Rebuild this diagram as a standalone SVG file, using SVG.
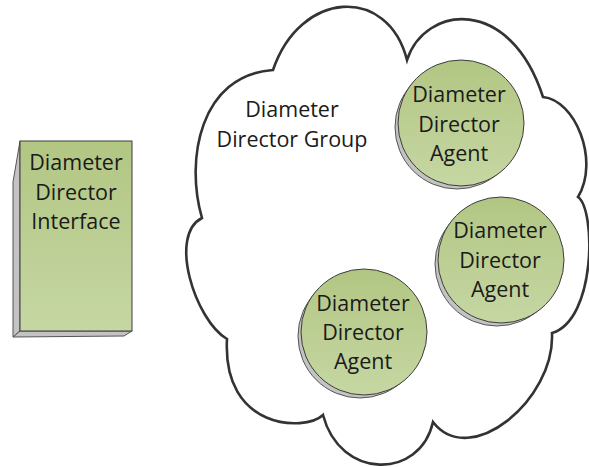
<svg xmlns="http://www.w3.org/2000/svg" width="589" height="467" viewBox="0 0 589 467">
<defs>
<linearGradient id="g" x1="0" y1="0" x2="0" y2="1">
<stop offset="0" stop-color="#b2c683"/>
<stop offset="1" stop-color="#c6d7a3"/>
</linearGradient>
</defs>
<style>
.t{font-family:"Open Sans","Noto Sans",sans-serif;font-size:21.5px;fill:#1a1a1a;text-anchor:middle}
.face{fill:url(#g);stroke:#3c3c3c;stroke-width:1}
.shade{fill:#c3c3c3;stroke:#555;stroke-width:1}
.cloud{fill:#fff;stroke:#333;stroke-width:2.6;stroke-linejoin:miter}
</style>
<rect width="589" height="467" fill="#fff"/>
<g id="group">
<path class="cloud" d="M273,70 C300,-10 388,-15 407,60 C425,5 510,-5 543,97 C575,100 600,160 578,197 C596,210 596,320 552,333 C555,400 470,470 433,422 C420,480 340,480 323,415 C305,432 222,430 227,339 C195,320 168,235 202,218 C185,160 200,75 273,70 Z"/>
<text class="t" x="292" y="117">Diameter</text>
<text class="t" x="292" y="147">Director Group</text>
</g>
<g id="interface">
<polygon class="shade" points="20,141 13,182 13,337 20,331"/>
<polygon class="shade" points="13,337 124,336 132,331 20,331"/>
<rect class="face" x="20" y="141" width="112" height="190"/>
<text class="t" x="76" y="170">Diameter</text>
<text class="t" x="76" y="200">Director</text>
<text class="t" x="76" y="229">Interface</text>
</g>
<g id="agent1">
<circle class="shade" cx="457" cy="127" r="62"/>
<circle class="face" cx="461" cy="123" r="63"/>
<text class="t" x="459" y="102">Diameter</text>
<text class="t" x="459" y="132">Director</text>
<text class="t" x="459" y="161">Agent</text>
</g>
<g id="agent2">
<circle class="shade" cx="497" cy="264" r="62"/>
<circle class="face" cx="501" cy="260" r="63"/>
<text class="t" x="500" y="238">Diameter</text>
<text class="t" x="500" y="268">Director</text>
<text class="t" x="500" y="297">Agent</text>
</g>
<g id="agent3">
<circle class="shade" cx="360" cy="336" r="62"/>
<circle class="face" cx="364" cy="332" r="63"/>
<text class="t" x="363" y="311">Diameter</text>
<text class="t" x="363" y="340">Director</text>
<text class="t" x="363" y="369">Agent</text>
</g>
<g id="connectors"/>
</svg>
